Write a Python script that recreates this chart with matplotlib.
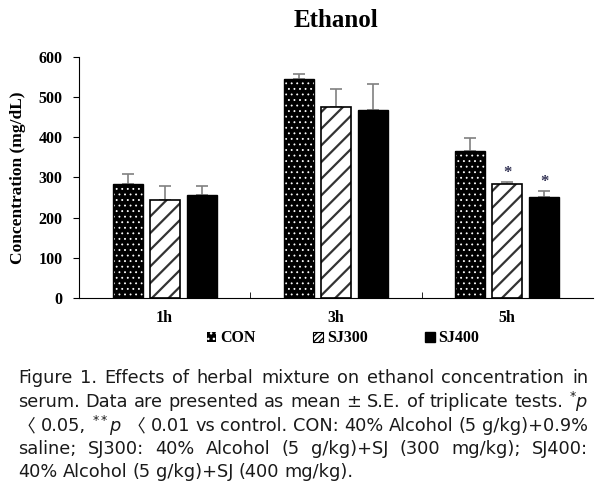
import matplotlib
matplotlib.use('Agg')
import matplotlib.pyplot as plt
import matplotlib.patches as mpatches
import numpy as np

# data
times = ['1h', '3h', '5h']
groups = ['CON', 'SJ300', 'SJ400']
con_mean = [283, 544, 366]
con_err = [26, 14, 32]
sj300_mean = [243, 475, 283]
sj300_err = [37, 45, 7]
sj400_mean = [257, 469, 251]
sj400_err = [23, 63, 15]
stars = [(2, 1), (2, 2)]   # (time index, group index) marked with *

caption_lines = [
    "Figure 1. Effects of herbal mixture on ethanol concentration in",
    "serum. Data are presented as mean \u00b1 S.E. of triplicate tests. $^{*}p$",
    "\u3008 0.05, $^{**}p$ \u3008 0.01 vs control. CON: 40% Alcohol (5 g/kg)+0.9%",
    "saline; SJ300: 40% Alcohol (5 g/kg)+SJ (300 mg/kg); SJ400:",
    "40% Alcohol (5 g/kg)+SJ (400 mg/kg).",
]

serif = 'Liberation Serif'
plt.rcParams['font.family'] = serif
plt.rcParams['axes.labelweight'] = 'bold'

fig = plt.figure(figsize=(6.05, 4.94), dpi=100)
ax = fig.add_axes([0.1306, 0.3968, 0.8494, 0.4878])

x = np.arange(len(times))
w = 0.175
step = 0.216
means = [con_mean, sj300_mean, sj400_mean]
errs = [con_err, sj300_err, sj400_err]

for gi, (m, e) in enumerate(zip(means, errs)):
    xs = x + (gi - 1) * step
    ax.errorbar(xs, m, yerr=[np.zeros(len(e)), e], fmt='none', ecolor='#808080',
                elinewidth=1.2, capsize=4, capthick=1.2, zorder=1)
    if gi == 0:
        with plt.rc_context({'hatch.linewidth': 0.6}):
            ax.bar(xs, m, w, color='black', edgecolor='white', hatch='...', lw=0, zorder=2)
        ax.bar(xs, m, w, fill=False, edgecolor='black', lw=1, zorder=3)
    elif gi == 1:
        with plt.rc_context({'hatch.linewidth': 1.6}):
            ax.bar(xs, m, w, color='white', edgecolor='#333333', hatch='//', lw=0, zorder=2)
        ax.bar(xs, m, w, fill=False, edgecolor='black', lw=1.2, zorder=3)
    else:
        ax.bar(xs, m, w, color='black', edgecolor='black', lw=1, zorder=2)

for ti, gi in stars:
    y = means[gi][ti] + errs[gi][ti] + 22
    ax.text(x[ti] + (gi - 1) * step, y, '*', ha='center', va='center',
            fontsize=12, fontweight='bold', color='#333355')

ax.set_xlim(-0.5, 2.5)
ax.set_ylim(0, 600)
ax.set_yticks(range(0, 601, 100))
ax.set_xticks(x)
ax.set_xticklabels(times)
ax.set_xticks([0.5, 1.5], minor=True)
ax.tick_params(axis='x', which='major', length=0, pad=9, labelsize=11.5)
ax.tick_params(axis='x', which='minor', direction='in', length=4)
ax.tick_params(axis='y', direction='out', length=4, pad=8, labelsize=11.5)
for lab in ax.get_xticklabels() + ax.get_yticklabels():
    lab.set_fontweight('bold')
for s in ['top', 'right']:
    ax.spines[s].set_visible(False)

ax.set_ylabel('Concentration (mg/dL)', fontsize=12.5, fontweight='bold', labelpad=9)
fig.text(0.555, 0.958, 'Ethanol', ha='center', va='center', fontsize=18, fontweight='bold')

with plt.rc_context({'hatch.linewidth': 0.5}):
    handles = [
        mpatches.Patch(facecolor='black', edgecolor='white', hatch='...', lw=0),
        mpatches.Patch(facecolor='white', edgecolor='black', hatch='//////', lw=0.8),
        mpatches.Patch(facecolor='black', edgecolor='black'),
    ]
fig.legend(handles, groups, loc='center', bbox_to_anchor=(0.567, 0.315), ncol=3,
           frameon=False, handlelength=0.6, handleheight=0.6, handletextpad=0.25,
           columnspacing=3.6, prop={'family': serif, 'weight': 'bold', 'size': 11.5})

# justified caption
cap_font = dict(family=['DejaVu Sans', 'Noto Sans CJK KR'], fontweight='normal',
                fontsize=12.8, color='#1a1a1a')
x0, x1 = 18, 588
line_y = [378, 402, 426, 449, 472]
W, H = fig.bbox.width, fig.bbox.height
renderer = fig.canvas.get_renderer()
for li, (line, yp) in enumerate(zip(caption_lines, line_y)):
    words = line.split(' ')
    texts = [fig.text(0, 1 - yp / H, wd, va='center', ha='left', **cap_font) for wd in words]
    widths = [t.get_window_extent(renderer).width for t in texts]
    if li < len(caption_lines) - 1 and len(words) > 1:
        gap = (x1 - x0 - sum(widths)) / (len(words) - 1)
    else:
        gap = renderer.points_to_pixels(12.8) * 0.3
    xp = x0
    for t, wd in zip(texts, widths):
        t.set_x(xp / W)
        xp += wd + gap

fig.savefig('out.png', dpi=100)
